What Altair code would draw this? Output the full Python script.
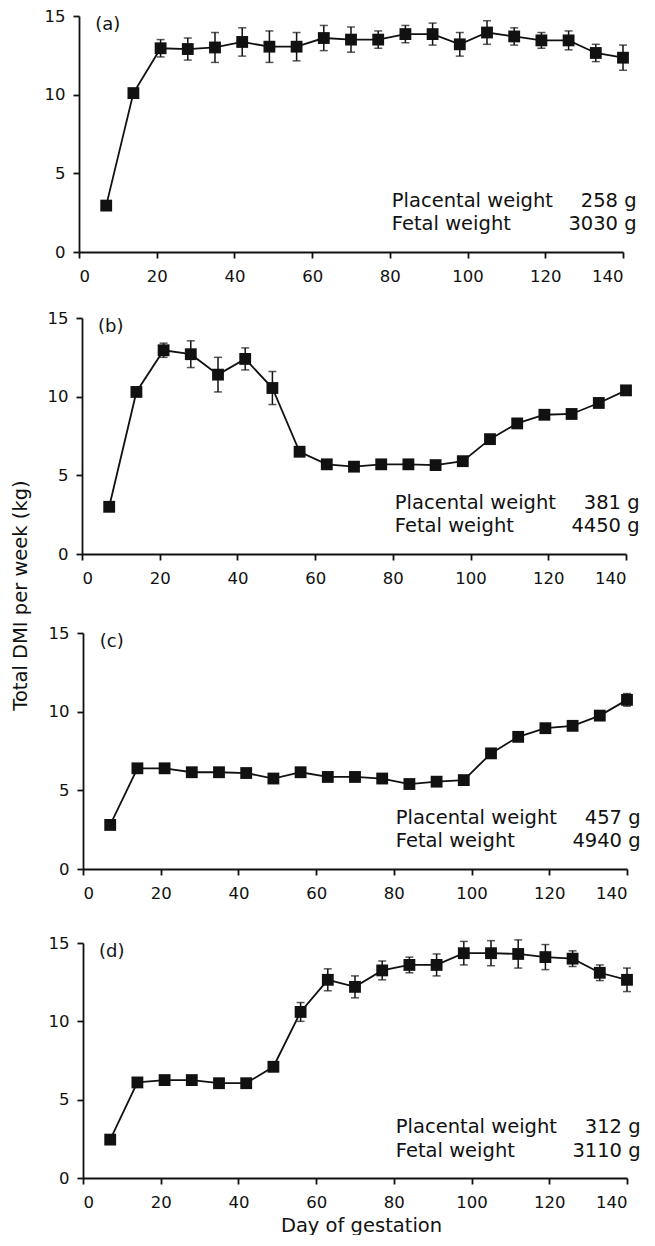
import altair as alt
import pandas as pd

# ---- data ----
days = [7, 14, 21, 28, 35, 42, 49, 56, 63, 70, 77, 84, 91, 98, 105, 112, 119, 126, 133, 140]

mean_a = [2.95, 10.1, 12.95, 12.9, 13.0, 13.35, 13.05, 13.05, 13.6, 13.5, 13.5, 13.85, 13.85, 13.2, 13.95, 13.7, 13.45, 13.45, 12.65, 12.35]
sem_a = [0.2, 0.2, 0.55, 0.7, 0.95, 0.9, 1.0, 0.9, 0.8, 0.8, 0.55, 0.55, 0.7, 0.75, 0.75, 0.55, 0.5, 0.6, 0.55, 0.8]

mean_b = [3.0, 10.3, 12.95, 12.7, 11.4, 12.4, 10.55, 6.5, 5.7, 5.55, 5.7, 5.7, 5.65, 5.9, 7.3, 8.3, 8.85, 8.9, 9.6, 10.4]
sem_b = [0.2, 0.2, 0.45, 0.85, 1.1, 0.7, 1.05, 0.25, 0.2, 0.2, 0.2, 0.2, 0.2, 0.2, 0.2, 0.2, 0.2, 0.2, 0.2, 0.2]

mean_c = [2.8, 6.4, 6.4, 6.15, 6.15, 6.1, 5.75, 6.15, 5.85, 5.85, 5.75, 5.4, 5.55, 5.65, 7.35, 8.4, 8.95, 9.1, 9.75, 10.75]
sem_c = [0.2, 0.2, 0.2, 0.2, 0.2, 0.2, 0.2, 0.2, 0.2, 0.2, 0.2, 0.2, 0.2, 0.2, 0.2, 0.2, 0.2, 0.2, 0.2, 0.4]

mean_d = [2.45, 6.1, 6.25, 6.25, 6.05, 6.05, 7.1, 10.6, 12.65, 12.2, 13.25, 13.6, 13.6, 14.35, 14.35, 14.3, 14.1, 14.0, 13.1, 12.65]
sem_d = [0.2, 0.2, 0.2, 0.2, 0.2, 0.2, 0.3, 0.6, 0.7, 0.7, 0.6, 0.5, 0.7, 0.75, 0.8, 0.9, 0.8, 0.5, 0.5, 0.75]

panel_labels = ["(a)", "(b)", "(c)", "(d)"]
placental = [258, 381, 457, 312]
fetal = [3030, 4450, 4940, 3110]

x_ticks = [0, 20, 40, 60, 80, 100, 120, 140]
y_ticks = [0, 5, 10, 15]

# ---- styling / layout ----
FONT = "DejaVu Sans"
INK = "#111111"
W = 544
left_shift = [0, 3, 4, 4]
top_shift = [0, 0, 13, 8]
heights = [236, 236, 236, 235]
SPACING = 66


def panel(i, mean, sem):
    df = pd.DataFrame({
        "day": days,
        "mean": mean,
        "lo": [m - s for m, s in zip(mean, sem)],
        "hi": [m + s for m, s in zip(mean, sem)],
    })
    one = pd.DataFrame({"k": [0]})
    l = left_shift[i]
    t = top_shift[i]
    h = heights[i]
    xs = alt.Scale(domain=[0, 140], range=[l, W + l], nice=False, zero=False)
    ys = alt.Scale(domain=[0, 15], range=[h + t, t], nice=False)

    xkw = dict(values=x_ticks, format="d", tickSize=6, labelPadding=10,
               labelFontSize=16.5, grid=False)
    if i == 3:
        xaxis = alt.Axis(title="Day of gestation", titleY=47, titleX=282,
                         titleBaseline="middle", titleFontSize=19.5, **xkw)
    else:
        xaxis = alt.Axis(title=None, **xkw)

    ykw = dict(values=y_ticks, format="d", tickSize=6, labelPadding=8,
               labelFontSize=16.5, grid=False, offset=-l)
    if i == 1:
        yaxis = alt.Axis(title="Total DMI per week (kg)", titleX=-61.5, titleY=277,
                         titleAngle=270, titleAlign="center", titleBaseline="middle",
                         titleFontSize=19.5, **ykw)
    else:
        yaxis = alt.Axis(title=None, **ykw)

    X = alt.X("day:Q", scale=xs, axis=xaxis)
    base = alt.Chart(df)

    rules = base.mark_rule(color=INK, strokeWidth=1.5).encode(
        x=X, y=alt.Y("lo:Q", scale=ys, axis=yaxis), y2="hi:Q")
    cap_hi = base.mark_tick(orient="horizontal", size=8, thickness=1.5, color=INK).encode(
        x=X, y=alt.Y("hi:Q", scale=ys, axis=yaxis))
    cap_lo = base.mark_tick(orient="horizontal", size=8, thickness=1.5, color=INK).encode(
        x=X, y=alt.Y("lo:Q", scale=ys, axis=yaxis))
    line = base.mark_line(color=INK, strokeWidth=1.8).encode(
        x=X, y=alt.Y("mean:Q", scale=ys, axis=yaxis))
    pts = base.mark_square(size=140, color=INK, opacity=1, filled=True).encode(
        x=X, y=alt.Y("mean:Q", scale=ys, axis=yaxis))

    def txt(xv, yv, s, align, size):
        return alt.Chart(one).mark_text(
            align=align, baseline="middle", font=FONT, fontSize=size, color=INK
        ).encode(
            x=alt.X(datum=xv, scale=xs, axis=xaxis),
            y=alt.Y(datum=yv, scale=ys, axis=yaxis),
            text=alt.datum(s),
        )

    lab = txt(7.4, 14.42, panel_labels[i], "center", 18)
    p1 = txt(80.5, 3.25, "Placental weight", "left", 19.5)
    p2 = txt(143.5, 3.25, f"{placental[i]} g", "right", 19.5)
    f1 = txt(80.5, 1.75, "Fetal weight", "left", 19.5)
    f2 = txt(143.5, 1.75, f"{fetal[i]} g", "right", 19.5)

    return alt.layer(rules, cap_hi, cap_lo, line, pts, lab, p1, p2, f1, f2).properties(
        width=W + l, height=h + t)


pa = panel(0, mean_a, sem_a)
pb = panel(1, mean_b, sem_b)
pc = panel(2, mean_c, sem_c)
pd_ = panel(3, mean_d, sem_d)

chart = alt.vconcat(pa, pb, pc, pd_, spacing=SPACING, bounds="flush").properties(
    padding={"left": 2, "top": 0, "right": 0, "bottom": 0},
    background="white",
).configure_view(strokeWidth=0).configure_axis(
    domainColor=INK, tickColor=INK, labelColor=INK, titleColor=INK,
    domainWidth=1.8, tickWidth=1.8, labelFont=FONT, titleFont=FONT,
    titleFontWeight="normal",
)

chart.save("out.html", embed_options={"renderer": "svg", "actions": False})
